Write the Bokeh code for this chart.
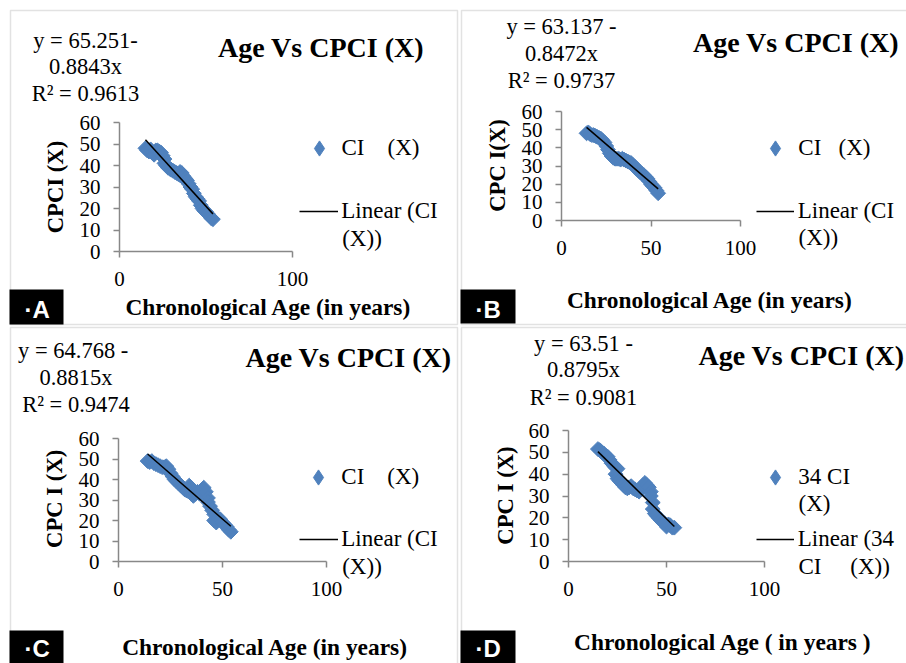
import numpy as np
from bokeh.plotting import figure
from bokeh.layouts import row, column
from bokeh.models import Label, Legend, LegendItem, BoxAnnotation, Range1d, FixedTicker, GridBox
from bokeh.core.properties import value
from bokeh.embed import file_html
from bokeh.resources import INLINE

# ---------------- data ----------------
a_age = [15, 16, 17, 18, 19, 20, 21, 22, 23, 24, 25, 26, 26, 27, 28, 29, 30, 31, 32, 33, 34, 35, 35, 36, 36, 37,
         38, 39, 40, 41, 42, 43, 44, 45, 46, 47, 48, 49, 50, 51, 52, 53, 54]
a_cpci = [48, 47, 46.5, 47.5, 46, 45, 47, 47, 46.5, 46, 44.5, 43, 41, 40, 39, 38.5, 38, 37.5, 37, 36.5, 36, 35.5, 37,
          35, 36.5, 35, 34, 33, 31.5, 30, 29, 27, 25.5, 24.5, 23.5, 21.5, 20, 19, 18.5, 17.5, 16.5, 15.5, 15]

b_age = [14, 15, 16, 17, 18, 19, 20, 21, 22, 23, 24, 25, 26, 27, 28, 29, 30, 31, 32, 33, 34, 35, 36, 37, 38, 39,
         40, 41, 42, 43, 44, 45, 46, 47, 48, 49, 50, 51, 52, 53, 54]
b_cpci = [48, 48.5, 47.5, 47, 47, 46.5, 46, 45.5, 45, 44, 43, 41, 39, 37, 35.5, 34.5, 34, 34, 34, 33.5, 34, 33.5, 33,
          32.5, 32, 31.5, 30.5, 29.5, 28.5, 27.5, 26.5, 25.5, 25, 24, 23, 21.5, 20, 19, 18, 16.5, 15]

c_age = [14, 15, 16, 17, 18, 19, 20, 21, 22, 23, 24, 25, 26, 27, 28, 29, 30, 31, 32, 33, 34, 35, 35, 36, 37, 38, 39,
         40, 41, 42, 43, 43, 44, 45, 46, 46, 47, 48, 49, 50, 51, 52, 53, 54]
c_cpci = [49, 48.5, 49, 48, 47.5, 47, 46.5, 46, 46, 46.5, 45, 43, 41.5, 40, 39, 38, 37, 36, 35, 34.5, 37, 36, 33, 32,
          33, 34, 33, 35, 36, 34, 31, 29, 27, 25, 23, 20, 19, 21, 20.5, 19, 18, 17, 15.5, 14.5]

d_age = [15, 16, 17, 18, 19, 20, 21, 22, 23, 24, 25, 24, 25, 26, 27, 28, 29, 30, 31, 32, 33, 34, 35, 36, 37, 38, 39,
         40, 41, 42, 42, 43, 43, 44, 45, 46, 47, 48, 49, 50, 51, 52, 53, 54]
d_cpci = [51.5, 51, 50, 49.5, 48.5, 48, 46.5, 45, 44, 43, 42.5, 40, 38, 37, 36, 35, 34, 33.5, 34, 34.5, 33.5, 33,
          32.5, 32, 33, 35, 36, 35, 34, 32, 30, 27, 24, 22, 21, 20, 19, 18, 17.5, 16, 17, 16.5, 15.5, 15.5]

intercepts = [65.251, 63.137, 64.768, 63.51]
slopes = [0.8843, 0.8472, 0.8815, 0.8795]
r2 = [0.9613, 0.9737, 0.9474, 0.9081]

eq_lines = [["y = 65.251-", "0.8843x", "R² = 0.9613"],
            ["y = 63.137 -", "0.8472x", "R² = 0.9737"],
            ["y = 64.768  -", "0.8815x", "R² = 0.9474"],
            ["y = 63.51 -", "0.8795x", "R² = 0.9081"]]
titles = ["Age Vs CPCI (X)"] * 4
y_titles = ["CPCI (X)", "CPC I(X)", "CPC I (X)", "CPC I (X)"]
x_titles = ["Chronological Age (in years)", "Chronological Age (in years)",
            "Chronological Age (in years)", "Chronological Age ( in years )"]
NB = "\u00a0"
marker_labels = [["CI" + NB * 4 + "(X)"], ["CI" + NB * 3 + "(X)"], ["CI" + NB * 4 + "(X)"], ["34 CI", "(X)"]]
line_labels = [["Linear (CI", "(X))"], ["Linear (CI", "(X))"], ["Linear (CI", "(X))"],
               ["Linear (34", "CI" + NB * 5 + "(X))"]]
panel_tags = ["·A", "·B", "·C", "·D"]
x_ticks = [[0, 100], [0, 50, 100], [0, 50, 100], [0, 50, 100]]
y_ticks = [0, 10, 20, 30, 40, 50, 60]

ages = [a_age, b_age, c_age, d_age]
cpcis = [a_cpci, b_cpci, c_cpci, d_cpci]

# ---------------- layout (global pixel positions) ----------------
SERIF = "Liberation Serif"
SANS = "Liberation Sans"
BLUE = "#4F81BD"
GRAY = "#888888"
TW, TH = 906, 663
BASE_FIX = 0.37  # baseline correction, fraction of font size

layouts = [
    dict(W=459, H=326, fl=119, ft=122, fw=173, fh=129,
         eq_x=85, eq_y=[48, 74.5, 101], tt=(320.5, 57), yt=(63.5, 186.5), xt=(268, 315),
         mk=(318.5, 147.7), mk_text=341.7, mk_base2=None, ln=(299.3, 338.3, 210.7), ln_text=341.7, ln_base2=246.7,
         box=(9, 63, 289, 324), tag=(24, 318), border=(10, 457, 10, 324)),
    dict(W=447, H=326, fl=102, ft=111, fw=179, fh=109,
         eq_x=561, eq_y=[34, 61.7, 88.3], tt=(795.5, 52.7), yt=(505.2, 165), xt=(709.5, 308.3),
         mk=(775.3, 147.7), mk_text=798, mk_base2=None, ln=(755.7, 793.7, 210.7), ln_text=798, ln_base2=246,
         box=(460, 515, 289, 323), tag=(475, 318), border=(461, 912, 10, 324)),
    dict(W=459, H=337, fl=118, ft=112, fw=208, fh=123,
         eq_x=75.5, eq_y=[358.3, 385, 412.3], tt=(348, 367.7), yt=(62.2, 498.3), xt=(264.7, 655),
         mk=(318.3, 477.3), mk_text=341.7, mk_base2=None, ln=(299.3, 338.3, 539.3), ln_text=341.7, ln_base2=575,
         box=(9, 63, 630, 670), tag=(24, 657), border=(10, 457, 327, 670)),
    dict(W=447, H=337, fl=109, ft=104, fw=196, fh=131,
         eq_x=583, eq_y=[351, 377.7, 405], tt=(801, 365), yt=(513.5, 495), xt=(722.5, 650),
         mk=(775.3, 476.7), mk_text=798, mk_base2=511.7, ln=(755.7, 793.7, 539.3), ln_text=798, ln_base2=575,
         box=(460, 515, 630, 670), tag=(475, 657), border=(461, 912, 327, 670)),
]

# overlay figure covering the whole page, for all texts, boxes and legends
top = figure(width=TW, height=TH, x_range=Range1d(0, TW), y_range=Range1d(0, TH),
             output_backend="svg", toolbar_location=None, x_axis_type=None, y_axis_type=None,
             min_border=0)
top.min_border_left = top.min_border_right = top.min_border_top = top.min_border_bottom = 0
top.grid.visible = False
top.outline_line_color = None
top.background_fill_alpha = 0
top.border_fill_alpha = 0


def lab(text, gx, gy, fs, font=SERIF, bold=False, color="black", align="left", rot=False):
    if rot:
        gx = gx - BASE_FIX * fs
    else:
        gy = gy - BASE_FIX * fs
    top.add_layout(Label(x=gx, y=TH - gy, x_units="screen", y_units="screen", text=text,
                         angle=(np.pi / 2 if rot else 0), text_font=font,
                         text_font_style=("bold" if bold else "normal"), text_font_size=f"{fs}px",
                         text_color=color, text_align=align, text_baseline="alphabetic"))


def box(l, r, t, b, **kw):
    top.add_layout(BoxAnnotation(left=l, right=r, top=TH - t, bottom=TH - b, left_units="screen",
                                 right_units="screen", top_units="screen", bottom_units="screen", **kw))


def build(i):
    L = layouts[i]
    W, H, fl, ft, fw, fh = L["W"], L["H"], L["fl"], L["ft"], L["fw"], L["fh"]
    p = figure(width=W, height=H, x_range=Range1d(0, 100), y_range=Range1d(0, 60),
               output_backend="svg", toolbar_location=None,
               min_border_left=fl, min_border_top=ft,
               min_border_right=W - fl - fw, min_border_bottom=H - ft - fh)
    p.outline_line_color = None
    p.grid.visible = False
    p.background_fill_color = "white"
    p.border_fill_color = "white"

    for ax in (p.xaxis[0], p.yaxis[0]):
        ax.axis_line_color = GRAY
        ax.axis_line_width = 1.5
        ax.major_tick_line_color = GRAY
        ax.major_tick_line_width = 1.5
        ax.major_tick_out = 6
        ax.major_tick_in = 0
        ax.minor_tick_line_color = None
        ax.major_label_text_font = SERIF
        ax.major_label_text_font_size = "21px"
        ax.major_label_text_color = "black"
    p.xaxis.ticker = FixedTicker(ticks=x_ticks[i])
    p.yaxis.ticker = FixedTicker(ticks=y_ticks)
    p.xaxis.major_label_standoff = 14
    p.yaxis.major_label_standoff = 13

    age = np.array(ages[i], dtype=float)
    cp = np.array(cpcis[i], dtype=float)
    p.scatter(age, cp, marker="square", size=10.5, angle=np.pi / 4, fill_color=BLUE, line_color=BLUE)
    xs = np.array([age.min(), age.max()])
    p.line(xs, intercepts[i] - slopes[i] * xs, line_color="black", line_width=1.5)

    # hidden twins in the overlay, only used to draw the legend keys
    hs = top.scatter(age, cp, marker="diamond", size=10.5, fill_color=BLUE, line_color=BLUE, visible=False)
    hl = top.line(xs, intercepts[i] - slopes[i] * xs, line_color="black", line_width=1.5, visible=False)

    # panel border and tag box
    bl, br, bt, bb = L["border"]
    box(bl, br, bt, bb, fill_alpha=0, line_color="#A0A0A0", line_width=1.5)
    kl, kr, kt, kb = L["box"]
    box(kl, kr, kt, kb, fill_color="black", fill_alpha=1, line_color=None)
    lab(panel_tags[i], L["tag"][0], L["tag"][1], 24, font=SANS, bold=True, color="white")

    for t, gy in zip(eq_lines[i], L["eq_y"]):
        lab(t, L["eq_x"], gy, 22.5, align="center")
    lab(titles[i], L["tt"][0], L["tt"][1], 28, bold=True, align="center")
    lab(y_titles[i], L["yt"][0], L["yt"][1], 22.7, bold=True, align="center", rot=True)
    lab(x_titles[i], L["xt"][0], L["xt"][1], 23.4, bold=True, align="center")

    mx, my = L["mk"]
    gw, gh = 38, 38
    leg1 = Legend(items=[LegendItem(label=value(marker_labels[i][0]), renderers=[hs])],
                  location=(mx - gw / 2, TH - (my + gh / 2)), padding=0, spacing=0, margin=0,
                  border_line_color=None, background_fill_alpha=0, glyph_width=gw, glyph_height=gh,
                  label_standoff=int(round(L["mk_text"] - (mx + gw / 2))), label_text_font=SERIF,
                  label_text_font_size="23px", label_text_color="black", label_height=gh)
    top.add_layout(leg1)
    if L["mk_base2"] is not None:
        lab(marker_labels[i][1], L["mk_text"], L["mk_base2"], 23)
    lx0, lx1, ly = L["ln"]
    lh = 30
    leg2 = Legend(items=[LegendItem(label=value(line_labels[i][0]), renderers=[hl])],
                  location=(lx0, TH - (ly + lh / 2)), padding=0, spacing=0, margin=0,
                  border_line_color=None, background_fill_alpha=0, glyph_width=int(round(lx1 - lx0)),
                  glyph_height=lh, label_standoff=int(round(L["ln_text"] - lx1)), label_text_font=SERIF,
                  label_text_font_size="23px", label_text_color="black", label_height=lh)
    top.add_layout(leg2)
    lab(line_labels[i][1], L["ln_text"], L["ln_base2"], 23)
    return p


figs = [build(i) for i in range(4)]
panels = column(row(column(figs[0]), column(figs[1]), spacing=0),
                row(column(figs[2]), column(figs[3]), spacing=0), spacing=0)
overlay = column(top)
grid = GridBox(children=[(panels, 0, 0), (overlay, 0, 0)], spacing=0)

open("out.html", "w").write(file_html(grid, INLINE))
